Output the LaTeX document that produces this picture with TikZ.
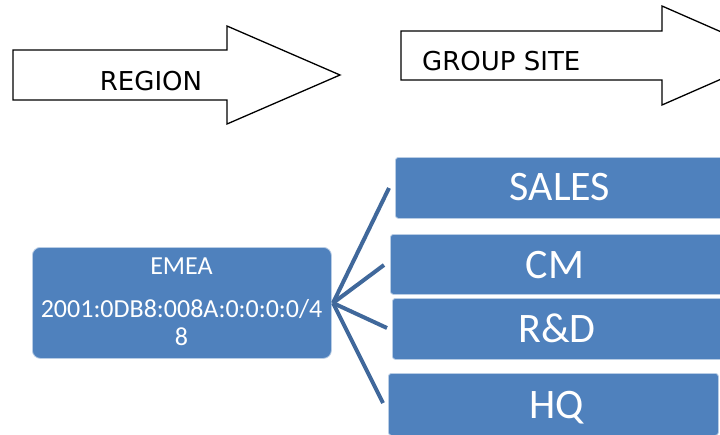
\documentclass[tikz,border=0pt]{standalone}
\usepackage{fontspec}
\setmainfont{Carlito}
\newfontfamily\arrowfont{DejaVu Sans}
\definecolor{boxblue}{RGB}{79,129,189}
\definecolor{linkblue}{RGB}{64,104,155}
\definecolor{edgeblue}{RGB}{185,205,229}
\tikzset{
  bigarrow/.style={draw=black, line width=1.3pt, fill=white, line join=miter},
  arrowtext/.style={font=\arrowfont\fontsize{26}{30}\selectfont, inner sep=0pt},
  bluebox/.style={fill=boxblue, draw=edgeblue, line width=0.8pt, rounded corners=3pt, inner sep=0pt},
  boxtext/.style={text=white, font=\fontsize{42}{48}\selectfont, inner sep=0pt},
  emeatext/.style={text=white, font=\fontsize{26}{30}\selectfont, inner sep=0pt},
  link/.style={draw=linkblue, line width=4pt, line cap=butt}
}
\begin{document}
\begin{tikzpicture}[x=1pt,y=-1pt]
\useasboundingbox (0,0) rectangle (720,434);
\clip (0,0) rectangle (720,434);
\fill[white] (0,0) rectangle (720,434);
% REGION arrow
\draw[bigarrow] (13,50) -- (227,50) -- (227,26) -- (340,75) -- (227,124) -- (227,100) -- (13,100) -- cycle;
\node[arrowtext, anchor=base] (region) at (151,90) {REGION};
% GROUP SITE arrow
\draw[bigarrow] (401,31) -- (662,31) -- (662,6) -- (775,55.5) -- (662,105) -- (662,80) -- (401,80) -- cycle;
\node[arrowtext, anchor=base west] (groupsite) at (422,70) {GROUP SITE};
% EMEA box
\node[bluebox, rounded corners=8pt, minimum width=299pt, minimum height=111pt, anchor=north west] (emea) at (32,247) {};
\node[emeatext, anchor=base] (emeal1) at (181.5,274) {EMEA};
\node[emeatext, anchor=base] (emeal2) at (181.5,317) {2001:0DB8:008A:0:0:0:0/4};
\node[emeatext, anchor=base] (emeal3) at (181.5,345) {8};
% right boxes
\node[bluebox, minimum width=330pt, minimum height=61pt, anchor=north west] (sales) at (395,157) {};
\node[bluebox, minimum width=335pt, minimum height=60pt, anchor=north west] (cm) at (390,234) {};
\node[bluebox, minimum width=333pt, minimum height=61pt, anchor=north west] (rd) at (392,298) {};
\node[bluebox, minimum width=330pt, minimum height=62pt, anchor=north west] (hq) at (388,373) {};
\node[boxtext, anchor=base] (salest) at (560,200) {SALES};
\node[boxtext, anchor=base] (cmt) at (555,278) {CM};
\node[boxtext, anchor=base] (rdt) at (557,342) {R\&D};
\node[boxtext, anchor=base] (hqt) at (557,418) {HQ};
% connectors
\coordinate (hub) at (333,303);
\coordinate (esales) at (389,188);
\coordinate (ecm) at (384,265);
\coordinate (erd) at (387,328);
\coordinate (ehq) at (383,403);
\draw[link] (hub) -- (esales);
\draw[link] (hub) -- (ecm);
\draw[link] (hub) -- (erd);
\draw[link] (hub) -- (ehq);
\end{tikzpicture}
\end{document}
